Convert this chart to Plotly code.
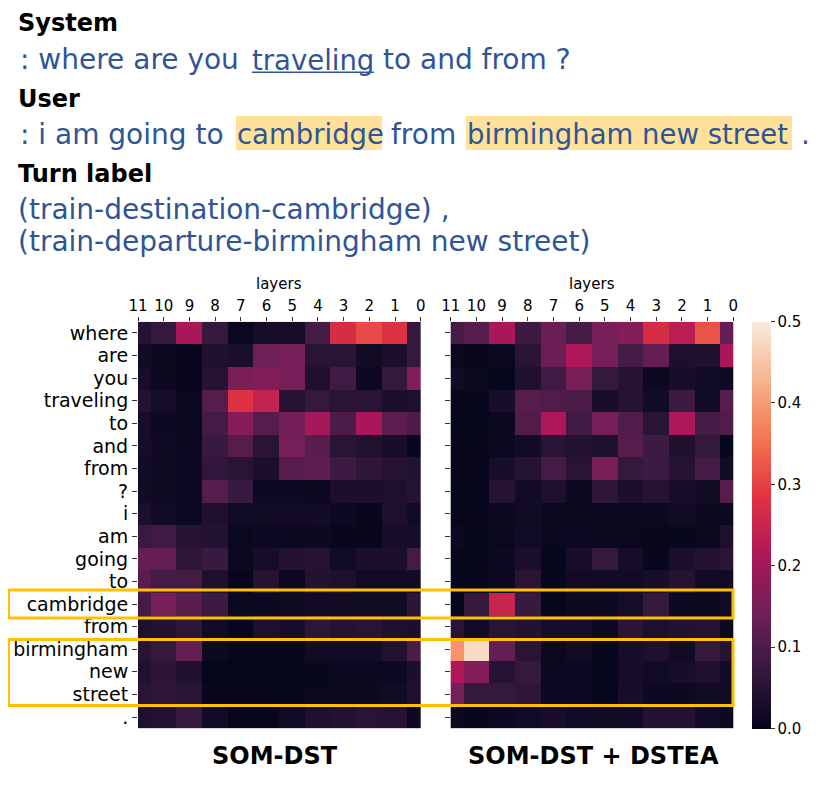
import plotly.graph_objects as go

# page is offset by the browser's 8px body margin; coordinates below are page pixels
OFF = 8
W, H = 822, 769

tokens = ["where", "are", "you", "traveling", "to", "and", "from", "?", "i", "am",
          "going", "to", "cambridge", "from", "birmingham", "new", "street", "."]
layers = [11, 10, 9, 8, 7, 6, 5, 4, 3, 2, 1, 0]

som_dst = [
    [0.05, 0.07, 0.21, 0.07, 0.01, 0.025, 0.025, 0.09, 0.27, 0.31, 0.28, 0.07],
    [0.02, 0.012, 0.008, 0.04, 0.035, 0.14, 0.15, 0.055, 0.055, 0.02, 0.035, 0.07],
    [0.03, 0.012, 0.008, 0.05, 0.155, 0.165, 0.15, 0.04, 0.085, 0.015, 0.07, 0.165],
    [0.045, 0.025, 0.012, 0.11, 0.28, 0.245, 0.05, 0.07, 0.055, 0.055, 0.035, 0.038],
    [0.03, 0.015, 0.01, 0.09, 0.17, 0.11, 0.145, 0.205, 0.1, 0.21, 0.12, 0.1],
    [0.03, 0.018, 0.012, 0.075, 0.11, 0.055, 0.15, 0.115, 0.055, 0.042, 0.032, 0.008],
    [0.022, 0.018, 0.015, 0.065, 0.055, 0.035, 0.11, 0.12, 0.08, 0.06, 0.05, 0.042],
    [0.02, 0.018, 0.015, 0.11, 0.075, 0.015, 0.015, 0.012, 0.035, 0.035, 0.038, 0.05],
    [0.035, 0.022, 0.012, 0.04, 0.022, 0.02, 0.024, 0.024, 0.015, 0.008, 0.038, 0.022],
    [0.075, 0.085, 0.05, 0.045, 0.01, 0.015, 0.01, 0.013, 0.007, 0.005, 0.03, 0.032],
    [0.13, 0.13, 0.06, 0.075, 0.012, 0.03, 0.048, 0.05, 0.022, 0.035, 0.035, 0.09],
    [0.115, 0.09, 0.09, 0.04, 0.005, 0.05, 0.012, 0.045, 0.04, 0.022, 0.022, 0.02],
    [0.09, 0.15, 0.115, 0.08, 0.012, 0.012, 0.018, 0.022, 0.02, 0.02, 0.02, 0.058],
    [0.04, 0.048, 0.06, 0.022, 0.005, 0.038, 0.032, 0.062, 0.05, 0.055, 0.04, 0.035],
    [0.055, 0.07, 0.13, 0.014, 0.008, 0.006, 0.006, 0.02, 0.024, 0.024, 0.043, 0.1],
    [0.042, 0.058, 0.04, 0.004, 0.004, 0.004, 0.004, 0.006, 0.01, 0.012, 0.016, 0.035],
    [0.055, 0.062, 0.055, 0.007, 0.005, 0.005, 0.006, 0.01, 0.012, 0.013, 0.02, 0.04],
    [0.04, 0.048, 0.07, 0.024, 0.005, 0.004, 0.022, 0.04, 0.045, 0.055, 0.05, 0.016],
]

som_dst_dstea = [
    [0.09, 0.11, 0.21, 0.08, 0.135, 0.09, 0.15, 0.165, 0.27, 0.23, 0.32, 0.13],
    [0.01, 0.005, 0.01, 0.055, 0.135, 0.215, 0.15, 0.09, 0.13, 0.038, 0.04, 0.21],
    [0.02, 0.01, 0.006, 0.04, 0.085, 0.155, 0.07, 0.05, 0.014, 0.03, 0.022, 0.017],
    [0.007, 0.007, 0.032, 0.11, 0.105, 0.1, 0.032, 0.05, 0.02, 0.08, 0.02, 0.11],
    [0.006, 0.006, 0.012, 0.105, 0.215, 0.085, 0.15, 0.105, 0.055, 0.215, 0.09, 0.105],
    [0.008, 0.008, 0.012, 0.024, 0.055, 0.045, 0.04, 0.11, 0.08, 0.04, 0.07, 0.004],
    [0.005, 0.005, 0.032, 0.05, 0.09, 0.055, 0.155, 0.07, 0.08, 0.05, 0.09, 0.02],
    [0.006, 0.006, 0.05, 0.022, 0.038, 0.014, 0.06, 0.035, 0.05, 0.03, 0.02, 0.11],
    [0.005, 0.005, 0.012, 0.02, 0.01, 0.01, 0.01, 0.01, 0.012, 0.02, 0.014, 0.012],
    [0.012, 0.006, 0.01, 0.022, 0.01, 0.016, 0.012, 0.01, 0.008, 0.006, 0.014, 0.038],
    [0.006, 0.006, 0.014, 0.035, 0.006, 0.032, 0.07, 0.03, 0.008, 0.035, 0.045, 0.055],
    [0.006, 0.008, 0.016, 0.055, 0.006, 0.024, 0.02, 0.022, 0.032, 0.05, 0.022, 0.022],
    [0.006, 0.07, 0.25, 0.075, 0.004, 0.014, 0.014, 0.03, 0.07, 0.014, 0.012, 0.024],
    [0.055, 0.022, 0.055, 0.045, 0.03, 0.03, 0.012, 0.058, 0.038, 0.045, 0.05, 0.012],
    [0.39, 0.48, 0.13, 0.055, 0.012, 0.02, 0.006, 0.032, 0.04, 0.02, 0.07, 0.05],
    [0.215, 0.165, 0.05, 0.07, 0.012, 0.016, 0.008, 0.03, 0.02, 0.032, 0.04, 0.024],
    [0.15, 0.07, 0.07, 0.06, 0.016, 0.016, 0.004, 0.032, 0.016, 0.014, 0.02, 0.02],
    [0.014, 0.005, 0.016, 0.022, 0.032, 0.022, 0.02, 0.024, 0.045, 0.045, 0.022, 0.014],
]

colorbar_ticks = [0.0, 0.1, 0.2, 0.3, 0.4, 0.5]

rocket = [
    [0.0, "#03051a"], [1 / 7, "#35193e"], [2 / 7, "#701f57"], [3 / 7, "#ad1759"],
    [4 / 7, "#e13342"], [5 / 7, "#f37651"], [6 / 7, "#f6b48f"], [1.0, "#faebdd"],
]


def fx(p):
    return (p - OFF) / W


def fy(p):
    return 1 - (p - OFF) / H


AX_FONT = "DejaVu Sans"
BLUE = "#2F5597"
TXT_FONT = "DejaVu Sans"
TS = 27.5
TS_LABEL = 28

plot_top, plot_bot = 321.7, 728.3
left_x0, left_x1 = 138.0, 420.7
right_x0, right_x1 = 450.7, 733.3

yidx = list(range(len(tokens)))

fig = go.Figure()
fig.add_trace(go.Heatmap(
    z=som_dst, x=layers, y=yidx, colorscale=rocket, zmin=0, zmax=0.5,
    showscale=False, xaxis="x", yaxis="y"))
fig.add_trace(go.Heatmap(
    z=som_dst_dstea, x=layers, y=yidx, colorscale=rocket, zmin=0, zmax=0.5,
    xaxis="x2", yaxis="y2",
    colorbar=dict(
        x=fx(751.7), xanchor="left", xref="paper", y=fy((plot_top + plot_bot) / 2),
        yanchor="middle", yref="paper", len=plot_bot - plot_top, lenmode="pixels",
        thickness=19, thicknessmode="pixels", xpad=0, ypad=0, outlinewidth=0,
        tickvals=colorbar_ticks, tickformat=".1f", ticks="outside", ticklen=4,
        tickcolor="#333", tickfont=dict(family=AX_FONT, size=15, color="black"))))

xcommon = dict(range=[11, 0], tickvals=layers, side="top", ticks="outside", ticklen=4,
               tickcolor="#333", showgrid=False, zeroline=False, showline=False,
               automargin=False, tickfont=dict(family=AX_FONT, size=15, color="black"))
ycommon = dict(range=[len(tokens) - 0.5, -0.5], tickvals=yidx, ticks="outside",
               ticklen=5, tickcolor="#333", showgrid=False, zeroline=False,
               showline=False, automargin=False,
               tickfont=dict(family=AX_FONT, size=19, color="black"))

fig.update_layout(
    width=W, height=H, autosize=False,
    margin=dict(l=0, r=0, t=0, b=0, pad=0, autoexpand=False),
    paper_bgcolor="white", plot_bgcolor="white",
    xaxis=dict(domain=[fx(left_x0), fx(left_x1)], anchor="y", **xcommon),
    xaxis2=dict(domain=[fx(right_x0), fx(right_x1)], anchor="y2", **xcommon),
    yaxis=dict(domain=[fy(plot_bot), fy(plot_top)], anchor="x", ticktext=tokens, **ycommon),
    yaxis2=dict(domain=[fy(plot_bot), fy(plot_top)], anchor="x2", showticklabels=False, **ycommon),
)

shapes = []
# highlight backgrounds for user utterance
for x0, x1 in [(236, 382), (466, 792)]:
    shapes.append(dict(type="rect", xref="paper", yref="paper", x0=fx(x0), x1=fx(x1),
                       y0=fy(150), y1=fy(116), fillcolor="#FFE199", line=dict(width=0),
                       layer="below"))
# underline of "traveling"
shapes.append(dict(type="line", xref="paper", yref="paper", x0=fx(252), x1=fx(374),
                   y0=fy(72.3), y1=fy(72.3), line=dict(color=BLUE, width=1.6)))
# orange boxes around rows
for y0, y1 in [(590, 618), (639.5, 705.5)]:
    shapes.append(dict(type="rect", xref="paper", yref="paper", x0=fx(8.5), x1=fx(733),
                       y0=fy(y1), y1=fy(y0), line=dict(color="#FFC000", width=3),
                       fillcolor="rgba(0,0,0,0)", layer="above"))
fig.update_layout(shapes=shapes)

ann = []


def text(x, y, s, size, color, family, bold=False, xanchor="left"):
    ann.append(dict(x=fx(x), y=fy(y), xref="paper", yref="paper", text=(f"<b>{s}</b>" if bold else s),
                    showarrow=False, xanchor=xanchor, yanchor="middle", borderpad=0,
                    font=dict(family=family, size=size, color=color)))


text(17, 23, "System", 24, "black", AX_FONT, bold=True)
text(19, 60, ": where are you", TS_LABEL, BLUE, TXT_FONT)
text(251, 60, "traveling", TS, BLUE, TXT_FONT)
text(382, 60, "to and from ?", TS_LABEL, BLUE, TXT_FONT)
text(17, 99, "User", 24, "black", AX_FONT, bold=True)
text(19, 134, ": i am going to", TS_LABEL, BLUE, TXT_FONT)
text(236, 134, "cambridge", TS, BLUE, TXT_FONT)
text(390, 134, "from", TS_LABEL, BLUE, TXT_FONT)
text(466, 134, "birmingham new street", TS, BLUE, TXT_FONT)
text(800, 134, ".", TS_LABEL, BLUE, TXT_FONT)
text(17, 174, "Turn label", 24, "black", AX_FONT, bold=True)
text(17, 209, "(train-destination-cambridge) ,", TS_LABEL, BLUE, TXT_FONT)
text(17, 242, "(train-departure-birmingham new street)", TS_LABEL, BLUE, TXT_FONT)

text((left_x0 + left_x1) / 2, 284, "layers", 15, "black", AX_FONT, xanchor="center")
text((right_x0 + right_x1) / 2, 284, "layers", 15, "black", AX_FONT, xanchor="center")
text(275, 756, "SOM-DST", 24, "black", AX_FONT, bold=True, xanchor="center")
text(593, 756, "SOM-DST + DSTEA", 24, "black", AX_FONT, bold=True, xanchor="center")

fig.update_layout(annotations=ann)

fig.write_html("out.html")
